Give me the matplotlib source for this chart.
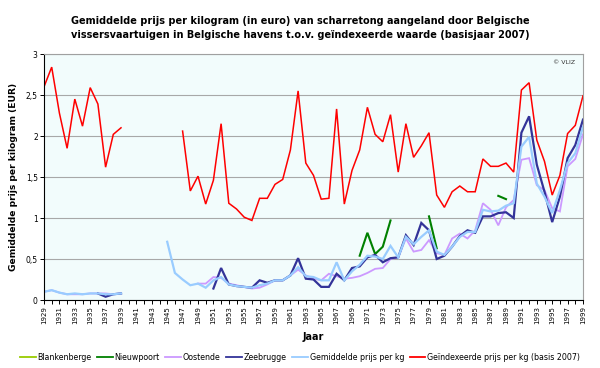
import numpy as np
import matplotlib
matplotlib.use("Agg")
import matplotlib.pyplot as plt

plt.rcParams['font.family'] = ['DejaVu Sans']

years = list(range(1929, 2000))
N = None

blankenberge = [N] * len(years)

nieuwpoort = {1970: 0.54, 1971: 0.82, 1972: 0.56, 1973: 0.65, 1974: 0.97,
              1979: 1.02, 1980: 0.63, 1988: 1.27, 1989: 1.23}

oostende = [0.10,
            0.12, 0.09, 0.07, 0.07, 0.07, 0.08, 0.08, 0.08, 0.07, 0.08,
            N, N, N, N, N, N, N, N, N, 0.20,
            0.20, 0.28, 0.27, 0.20, 0.18, 0.16, 0.14, 0.15, 0.19, 0.24,
            0.24, 0.30, 0.37, 0.30, 0.26, 0.24, 0.32, 0.29, 0.26, 0.27,
            0.29, 0.33, 0.38, 0.39, 0.50, 0.52, 0.75, 0.59, 0.61, 0.73,
            0.57, 0.55, 0.75, 0.81, 0.75, 0.85, 1.18, 1.10, 0.91, 1.13,
            1.22, 1.71, 1.73, 1.40, 1.34, 1.12, 1.08, 1.63, 1.72, 2.02]

zeebrugge = [N,
             N, N, N, N, N, N, 0.08, 0.04, 0.07, 0.08,
             N, N, N, N, N, N, N, N, N, N,
             N, 0.14, 0.39, 0.19, 0.17, 0.16, 0.15, 0.24, 0.21, 0.24,
             0.24, 0.30, 0.51, 0.26, 0.25, 0.16, 0.16, 0.32, 0.24, 0.39,
             0.41, 0.52, 0.55, 0.46, 0.51, 0.52, 0.79, 0.67, 0.94, 0.85,
             0.50, 0.54, 0.65, 0.78, 0.85, 0.82, 1.02, 1.02, 1.06, 1.07,
             1.00, 2.04, 2.24, 1.65, 1.32, 0.95, 1.26, 1.73, 1.89, 2.20]

gemiddelde = [0.10,
              0.12, 0.09, 0.07, 0.08, 0.07, 0.08, 0.08, 0.07, 0.07, 0.08,
              N, N, N, N, N, 0.71, 0.33, 0.25, 0.18, 0.20,
              0.15, 0.24, 0.28, 0.19, 0.17, 0.16, 0.15, 0.18, 0.20, 0.24,
              0.24, 0.30, 0.40, 0.29, 0.28, 0.24, 0.24, 0.46, 0.24, 0.35,
              0.43, 0.54, 0.53, 0.50, 0.66, 0.52, 0.77, 0.68, 0.77, 0.85,
              0.59, 0.55, 0.65, 0.77, 0.83, 0.83, 1.10, 1.08, 1.09, 1.15,
              1.18, 1.87, 1.99, 1.42, 1.26, 1.06, 1.34, 1.67, 1.79, 2.11]

geindexeerd = [2.60,
               2.84, 2.28, 1.85, 2.45, 2.12, 2.59, 2.39, 1.62, 2.02, 2.10,
               N, N, N, N, N, N, N, 2.06, 1.33, 1.51,
               1.17, 1.46, 2.15, 1.18, 1.11, 1.01, 0.97, 1.24, 1.24, 1.41,
               1.47, 1.83, 2.55, 1.67, 1.52, 1.23, 1.24, 2.33, 1.17, 1.58,
               1.83, 2.35, 2.02, 1.93, 2.26, 1.56, 2.15, 1.74, 1.88, 2.04,
               1.28, 1.13, 1.32, 1.39, 1.32, 1.32, 1.72, 1.63, 1.63, 1.67,
               1.56, 2.56, 2.65, 1.95, 1.69, 1.28, 1.52, 2.03, 2.13, 2.49]

labels = ["Blankenberge", "Nieuwpoort", "Oostende", "Zeebrugge",
          "Gemiddelde prijs per kg", "Geïndexeerde prijs per kg (basis 2007)"]


def arr(v):
    if isinstance(v, dict):
        return np.array([v.get(y, np.nan) for y in years], dtype=float)
    return np.array([np.nan if x is None else x for x in v], dtype=float)


series = [arr(blankenberge), arr(nieuwpoort), arr(oostende), arr(zeebrugge),
          arr(gemiddelde), arr(geindexeerd)]
colors = ["#99CC00", "#008000", "#CC99FF", "#333399", "#99CCFF", "#FF0000"]
widths = [1.3, 1.5, 1.3, 1.6, 1.6, 1.1]

fig = plt.figure(figsize=(6, 3.68), dpi=100)
ax = fig.add_axes([44 / 600, 1 - 300 / 368, 539 / 600, 246 / 368])
ax.set_facecolor("#F2FCFC")

x = np.array(years)
for s, c, w, l in zip(series, colors, widths, labels):
    ax.plot(x, s, color=c, lw=w, label=l, solid_joinstyle='miter')

ax.set_xlim(1929, 1999)
ax.set_ylim(0, 3)
ax.set_yticks(np.arange(0, 3.01, 0.5))
ax.set_yticklabels(["0", "0,5", "1", "1,5", "2", "2,5", "3"], fontsize=5.5)
ax.yaxis.grid(True, color="#A8A8A8", lw=0.8)
ax.set_axisbelow(True)

ax.set_xticks(years)
ax.set_xticklabels([str(y) if (y - 1929) % 2 == 0 else "" for y in years],
                   rotation=90, fontsize=5)
ax.tick_params(axis='both', direction='out', length=3, width=0.7, pad=1.5, colors='#000000')

for side in ["top", "right"]:
    ax.spines[side].set_color("#A0A0A0")
    ax.spines[side].set_linewidth(0.8)
for side in ["left", "bottom"]:
    ax.spines[side].set_color("#000000")
    ax.spines[side].set_linewidth(0.8)

ax.text(0.985, 0.975, "© VLIZ", transform=ax.transAxes, ha='right', va='top',
        fontsize=4.5, color="#333333")

fig.text(0.5, 1 - 28 / 368,
         "Gemiddelde prijs per kilogram (in euro) van scharretong aangeland door Belgische\n"
         "vissersvaartuigen in Belgische havens t.o.v. geïndexeerde waarde (basisjaar 2007)",
         ha='center', va='center', fontsize=7.0, fontweight='bold', linespacing=1.55)

fig.text(14 / 600, 1 - 177 / 368, "Gemiddelde prijs per kilogram (EUR)",
         rotation=90, ha='center', va='center', fontsize=6.6, fontweight='bold')

fig.text(313 / 600, 1 - 337 / 368, "Jaar", ha='center', va='center',
         fontsize=7, fontweight='bold')

handles, labs = ax.get_legend_handles_labels()
leg = fig.legend(handles, labs, loc='center', bbox_to_anchor=(300 / 600, 1 - 357 / 368),
                 ncol=6, frameon=False, fontsize=5.7, handlelength=2.0,
                 handletextpad=0.2, columnspacing=0.7, borderpad=0)
for h in leg.get_lines():
    h.set_linewidth(1.3)

fig.savefig("out.png", dpi=100, facecolor="white")
